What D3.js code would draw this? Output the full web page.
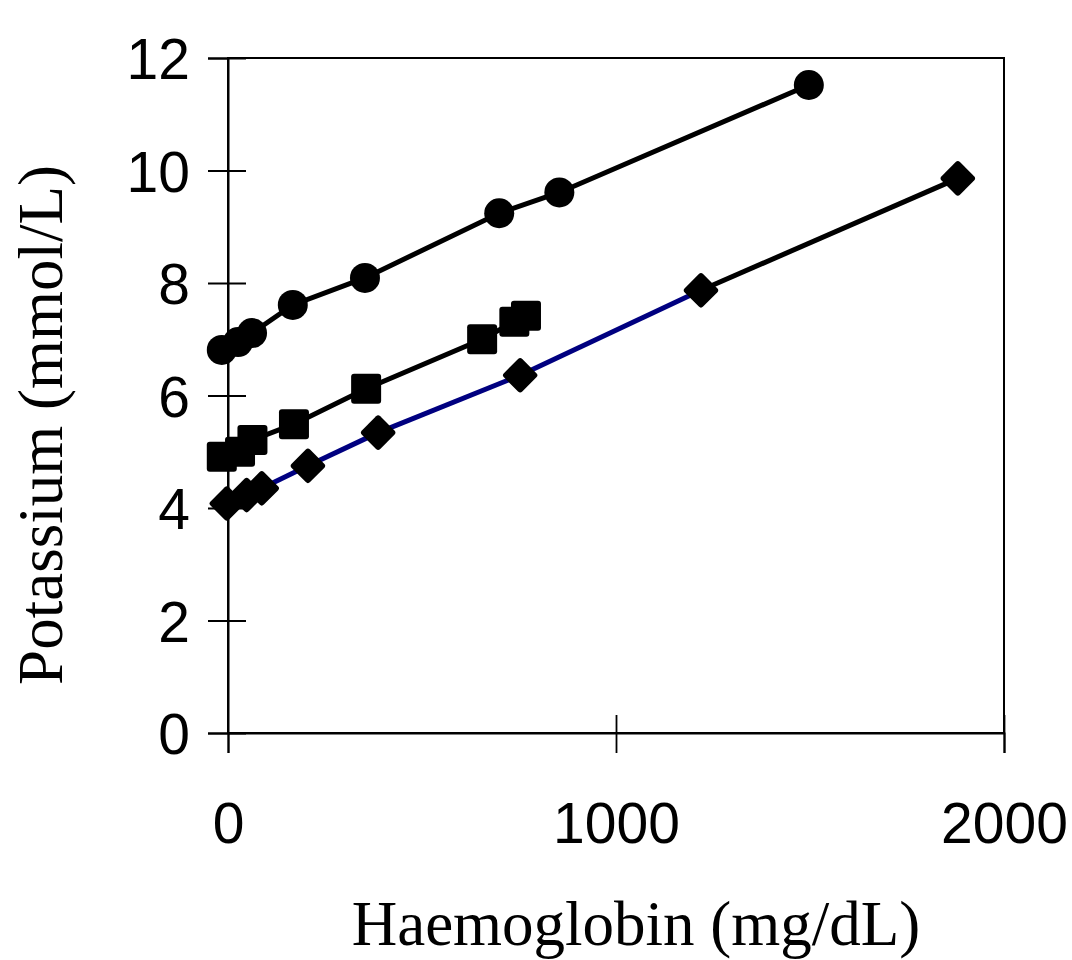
<!DOCTYPE html>
<html>
<head>
<meta charset="utf-8">
<script src="https://cdn.jsdelivr.net/npm/d3@7"></script>
<style>
  body { margin: 0; background: #fff; }
  .tick-label { font-family: "Liberation Sans", Arial, sans-serif; font-size: 57px; fill: #000; }
  .axis-title { font-family: "Liberation Serif", "Times New Roman", serif; font-size: 63px; fill: #000; }
</style>
</head>
<body>
<div id="wrapper"></div>
<script>
// 1. Data
const circleHb = [-16, 26, 62, 167, 353, 699, 854, 1497]
const circleK = [6.81, 6.95, 7.11, 7.61, 8.09, 9.24, 9.61, 11.52]

const squareHb = [-16, 31, 63, 170, 356, 655, 738, 768]
const squareK = [4.91, 5.0, 5.21, 5.49, 6.12, 7.0, 7.31, 7.42]

const diamondHb = [-3, 48, 87, 206, 387, 753, 1219, 1881]
const diamondK = [4.08, 4.23, 4.35, 4.75, 5.34, 6.36, 7.87, 9.86]
// colour of each segment of the diamond line (last one black)
const diamondSegColors = ["#000080", "#000080", "#000080", "#000080", "#000080", "#000080", "#000000"]

const xTicks = [0, 1000, 2000]
const yTicks = [0, 2, 4, 6, 8, 10, 12]

const toPoints = (xs, ys) => xs.map((x, i) => ({ x: x, y: ys[i] }))
const circles = toPoints(circleHb, circleK)
const squares = toPoints(squareHb, squareK)
const diamonds = toPoints(diamondHb, diamondK)

// 2. Dimensions
let dimensions = {
    width: 1072,
    height: 960,
    margin: { top: 58, right: 68, bottom: 227, left: 228 },
}
dimensions.boundedWidth = dimensions.width - dimensions.margin.left - dimensions.margin.right
dimensions.boundedHeight = dimensions.height - dimensions.margin.top - dimensions.margin.bottom

// 3. Canvas
const svg = d3.select("#wrapper")
    .append("svg")
    .attr("width", dimensions.width)
    .attr("height", dimensions.height)

const bounds = svg.append("g")
    .attr("transform", `translate(${dimensions.margin.left},${dimensions.margin.top})`)

// 4. Scales
const xScale = d3.scaleLinear()
    .domain([0, 2000])
    .range([0, dimensions.boundedWidth])

const yScale = d3.scaleLinear()
    .domain([0, 12])
    .range([dimensions.boundedHeight, 0])

// 5. Frame + axes
bounds.append("rect")
    .attr("width", dimensions.boundedWidth)
    .attr("height", dimensions.boundedHeight)
    .attr("fill", "none")
    .attr("stroke", "#000")
    .attr("stroke-width", 2)

const yAxis = bounds.append("g")
    .call(d3.axisLeft(yScale).tickValues(yTicks).tickSize(20).tickFormat(d3.format("d")))
yAxis.select(".domain").attr("stroke-width", 2)
yAxis.selectAll(".tick line").attr("x1", 18).attr("stroke-width", 1.8)
yAxis.selectAll(".tick text")
    .attr("class", "tick-label")
    .attr("x", -38)
    .attr("dy", "0.36em")
    .attr("font-size", null)
    .attr("font-family", null)

const xAxis = bounds.append("g")
    .attr("transform", `translate(0,${dimensions.boundedHeight})`)
    .call(d3.axisBottom(xScale).tickValues(xTicks).tickSize(20).tickFormat(d3.format("d")))
xAxis.select(".domain").attr("stroke-width", 2)
xAxis.selectAll(".tick line")
    .attr("y1", d => d === 0 ? 0 : -18)
    .attr("stroke-width", 1.8)
xAxis.selectAll(".tick text")
    .attr("class", "tick-label")
    .attr("y", 110)
    .attr("dy", 0)
    .attr("font-size", null)
    .attr("font-family", null)
svg.selectAll(".domain").attr("stroke", "#000")

// 6. Lines
const lineGenerator = d3.line()
    .x(d => xScale(d.x))
    .y(d => yScale(d.y))

const drawLine = (data, color) => bounds.append("path")
    .attr("d", lineGenerator(data))
    .attr("fill", "none")
    .attr("stroke", color)
    .attr("stroke-width", 5)

drawLine(circles, "#000")
drawLine(squares, "#000")
bounds.selectAll(".diamond-seg")
    .data(d3.pairs(diamonds))
    .enter().append("path")
    .attr("class", "diamond-seg")
    .attr("d", d => lineGenerator(d))
    .attr("fill", "none")
    .attr("stroke", (d, i) => diamondSegColors[i])
    .attr("stroke-width", 5)

// 7. Markers
bounds.selectAll(".circle-mark")
    .data(circles)
    .enter().append("circle")
    .attr("cx", d => xScale(d.x))
    .attr("cy", d => yScale(d.y))
    .attr("r", 15)
    .attr("fill", "#000")

const sq = 30
bounds.selectAll(".square-mark")
    .data(squares)
    .enter().append("rect")
    .attr("x", d => xScale(d.x) - sq / 2)
    .attr("y", d => yScale(d.y) - sq / 2)
    .attr("width", sq)
    .attr("height", sq)
    .attr("rx", 3)
    .attr("fill", "#000")

const dm = 26
bounds.selectAll(".diamond-mark")
    .data(diamonds)
    .enter().append("rect")
    .attr("x", -dm / 2)
    .attr("y", -dm / 2)
    .attr("width", dm)
    .attr("height", dm)
    .attr("rx", 3)
    .attr("transform", d => `translate(${xScale(d.x)},${yScale(d.y)}) rotate(45)`)
    .attr("fill", "#000")

// 8. Axis titles
svg.append("text")
    .attr("class", "axis-title")
    .attr("x", 636)
    .attr("y", 945)
    .attr("text-anchor", "middle")
    .text("Haemoglobin (mg/dL)")

svg.append("text")
    .attr("class", "axis-title")
    .attr("transform", "translate(62,425) rotate(-90)")
    .attr("text-anchor", "middle")
    .text("Potassium (mmol/L)")
</script>
</body>
</html>
